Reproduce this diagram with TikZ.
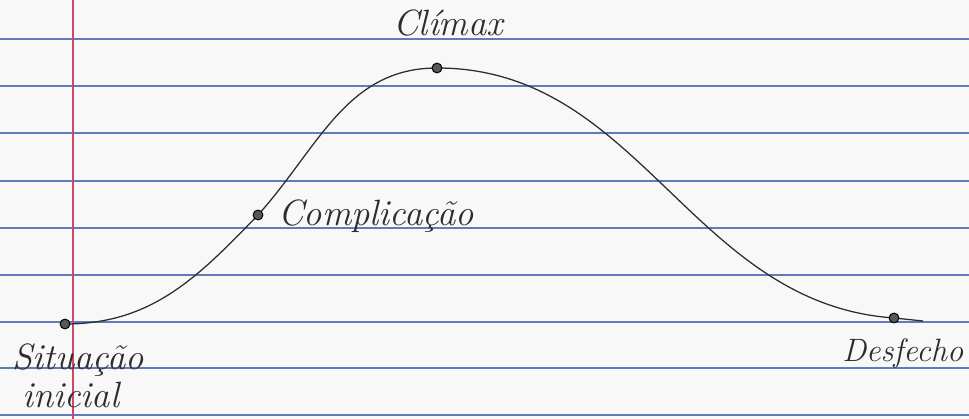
\documentclass[tikz,border=0pt]{standalone}
\usepackage{tikz}
\usetikzlibrary{positioning}
\definecolor{ruleblue}{RGB}{96,122,186}
\definecolor{marginred}{RGB}{206,72,104}
\definecolor{paper}{RGB}{248,248,248}
\definecolor{ink}{RGB}{45,45,45}

\tikzset{
  rule/.style={ruleblue,line width=1pt},
  margin/.style={marginred,line width=1.3pt},
  curve/.style={ink,line width=0.9pt},
  dot/.style={circle,fill=ink!80,draw=black,line width=0.7pt,inner sep=0pt,minimum size=7pt},
  hand/.style={ink,font=\itshape\fontsize{26}{30}\selectfont,inner sep=0pt}
}

\begin{document}
\begin{tikzpicture}[x=0.025cm,y=-0.025cm]
  % notebook page
  \fill[paper] (0,0) rectangle (969,419);
  \useasboundingbox (0,0) rectangle (969,419);
  \foreach \y in {39,86,133,181,228,275,322,368,415}
    \draw[rule] (0,\y)--(969,\y);
  \draw[margin] (73,0)--(73,419);

  % stages
  \coordinate (inicio) at (65,324);
  \coordinate (compl) at (258,215);
  \coordinate (climax) at (437,68);
  \coordinate (fim) at (894,318);
  \coordinate (fimcurva) at (923,321);

  \draw[curve] (inicio) to[out=0,in=226] (compl)
    to[out=48,in=180] (climax)
    to[out=0,in=176] (fim) -- (fimcurva);

  \node[dot] (pinicio) at (inicio) {};
  \node[dot] (pcompl) at (compl) {};
  \node[dot] (pclimax) at (climax) {};
  \node[dot] (pfim) at (fim) {};

  % labels
  \node[hand,anchor=base west] (lclimax) at (393,36) {Clímax};
  \node[hand,anchor=base west] (lcompl) at (278,226) {Complicação};
  \node[hand,anchor=base west] (lsit) at (12,370) {Situação};
  \node[hand,anchor=base west] (linic) at (22,408) {inicial};
  \node[hand,anchor=base west,font=\itshape\fontsize{23}{27}\selectfont] (lfim) at (842,362) {Desfecho};
\end{tikzpicture}
\end{document}
